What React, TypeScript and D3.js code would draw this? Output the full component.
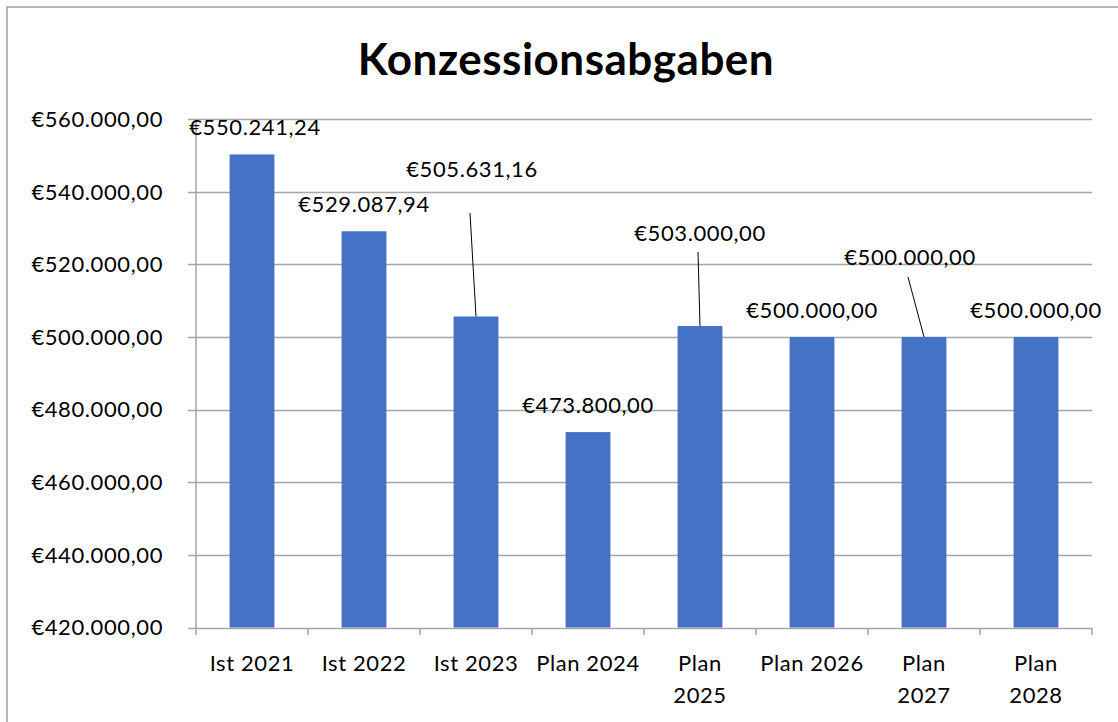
import React from "react";
import * as d3 from "d3";

const categories = ["Ist 2021", "Ist 2022", "Ist 2023", "Plan 2024", "Plan\n2025", "Plan 2026", "Plan\n2027", "Plan\n2028"];
const values = [550241.24, 529087.94, 505631.16, 473800, 503000, 500000, 500000, 500000];
const yTicks = [420000, 440000, 460000, 480000, 500000, 520000, 540000, 560000];
const title = "Konzessionsabgaben";
// manual label placement (Excel-like dragged labels)
const labelDx = [3, 0, -4, 0, 0, 0, -14, 0];
const labelY: (number | null)[] = [null, null, 169, null, 233, null, 257, null];
const leaderGap: (number | null)[] = [null, null, 44, null, 19, null, 20, null];

const W = 1118, H = 722;
const FONT = "Lato, 'Open Sans', sans-serif";
const FS = 22;
const LS = 0.6;

const fmt = (v: number) => {
  const s = v.toFixed(2);
  const [i, d] = s.split(".");
  return "€" + i.replace(/\B(?=(\d{3})+(?!\d))/g, ".") + "," + d;
};

export default function App() {
  const x = d3.scaleBand<string>().domain(categories).range([196, 1092]).paddingInner(0.6).paddingOuter(0.3);
  const band = d3.scaleBand<string>().domain(categories).range([196, 1092]);
  const y = d3.scaleLinear().domain([420000, 560000]).range([627.5, 119]);
  const grid = "#a6a6a6";
  return (
    <div style={{ position: "fixed", left: 0, top: 0 }}>
      <svg width={W} height={H} style={{ display: "block", background: "#fff" }}>
        <rect x={7} y={7} width={W + 10} height={H + 10} fill="#fff" stroke="#a0a0a0" strokeWidth={1.5} />
        <text x={566} y={75} textAnchor="middle" fontFamily={FONT} fontWeight="bold" fontSize={44} letterSpacing={0.5} fill="#000">{title}</text>
        {yTicks.map((t) => (
          <g key={t}>
            <line x1={188} x2={1092} y1={Math.round(y(t)) + 0.5} y2={Math.round(y(t)) + 0.5} stroke={grid} strokeWidth={1.5} />
            <text x={163} y={y(t)} dy="0.36em" textAnchor="end" fontFamily={FONT} fontSize={FS} letterSpacing={LS} fill="#000">{fmt(t)}</text>
          </g>
        ))}
        <line x1={196} x2={196} y1={119} y2={628} stroke={grid} strokeWidth={1.5} />
        {categories.map((c, i) => {
          const bx = x(c)!;
          const bw = x.bandwidth();
          const top = y(values[i]);
          return (
            <rect key={c} x={bx} y={top} width={bw} height={y(420000) - top} fill="#4472C4" />
          );
        })}
        {categories.map((c) => (
          <line key={"t" + c} x1={band(c)! + band.bandwidth()} x2={band(c)! + band.bandwidth()} y1={628} y2={635} stroke={grid} strokeWidth={1.5} />
        ))}
        <line x1={196} x2={196} y1={628} y2={635} stroke={grid} strokeWidth={1.5} />
        {categories.map((c) => {
          const lines = c.split("\n");
          const cx = band(c)! + band.bandwidth() / 2;
          return (
            <text key={"l" + c} x={cx} y={671} textAnchor="middle" fontFamily={FONT} fontSize={FS} letterSpacing={LS} fill="#000">
              {lines.map((ln, k) => (
                <tspan key={k} x={cx} dy={k === 0 ? 0 : 32}>{ln}</tspan>
              ))}
            </text>
          );
        })}
        {categories.map((c, i) => {
          const cx = x(c)! + x.bandwidth() / 2;
          const top = y(values[i]);
          const lx = cx + labelDx[i];
          const ly = labelY[i] ?? top - 27;
          const g = leaderGap[i];
          return (
            <g key={"d" + c}>
              {g !== null && <line x1={lx - 2} y1={ly + g} x2={cx} y2={top} stroke="#000" strokeWidth={1} />}
              <text x={lx} y={ly} dy="0.36em" textAnchor="middle" fontFamily={FONT} fontSize={FS} letterSpacing={LS} fill="#000">{fmt(values[i])}</text>
            </g>
          );
        })}
      </svg>
    </div>
  );
}
